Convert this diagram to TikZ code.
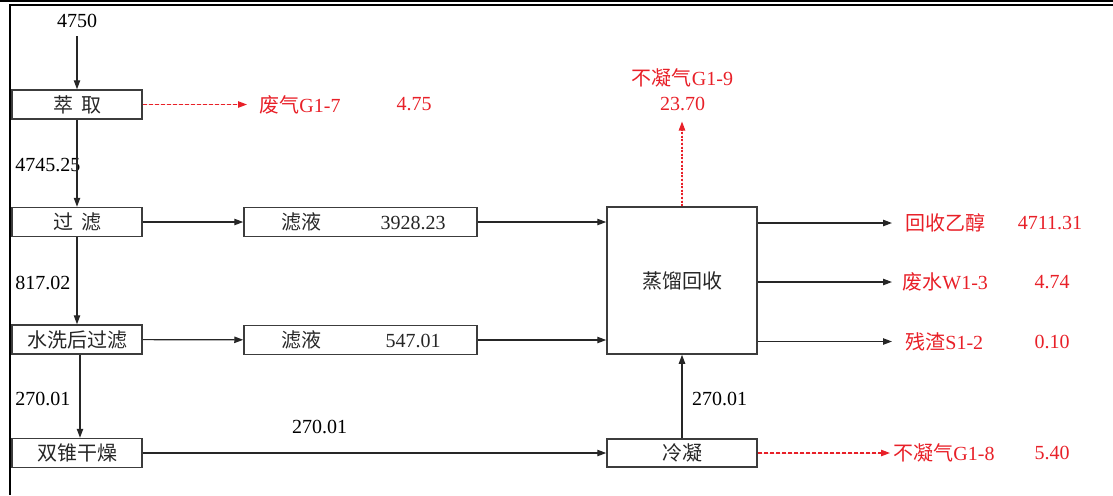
\documentclass[tikz,border=0pt]{standalone}
\usepackage{fontspec}
\setmainfont{Liberation Serif}
\newfontfamily\cjk{Noto Sans CJK SC}
\usetikzlibrary{arrows.meta}
\usetikzlibrary{positioning}
\definecolor{flowred}{RGB}{232,32,40}
\definecolor{boxgray}{RGB}{60,60,60}

\begin{document}
\begin{tikzpicture}[
        x=0.5pt, y=-0.5pt,
        font=\fontsize{10}{12}\selectfont,
        box/.style={rectangle, draw=boxgray, line width=0.75pt, inner sep=0pt, minimum width=65pt, minimum height=14.5pt, font=\fontsize{10}{12}\selectfont\cjk, text=black!85},
        lbl/.style={inner sep=0pt, text=black},
        redlbl/.style={inner sep=0pt, text=flowred},
        arrow/.style={-{Triangle[length=4.5pt, width=3.2pt]}, line width=0.6pt, draw=black!85},
        redarrow/.style={-{Triangle[length=4.5pt, width=3.2pt]}, line width=0.6pt, draw=flowred, fill=flowred}
    ]
    \useasboundingbox (0,0) rectangle (1113,495);

    % Frame
    \draw[line width=1.2pt] (0,1.2) -- (1113,1.2);
    \draw[line width=0.8pt] (9.7,5) -- (1113,5);
    \draw[line width=1.2pt] (9.7,4) -- (9.7,495);

    % Main process column
    \node[box] (cq) at (77,104.5) {萃\hspace{4pt}取};
    \node[box] (gl) at (77,222) {过\hspace{4pt}滤};
    \node[box] (sx) at (77,339.5) {水洗后过滤\hspace{12pt}};
    \node[box] (gz) at (77,453) {双锥干燥};

    % Filtrates
    \node[box, minimum width=116.5pt] (ly1) at (360.5,222) {\makebox[20pt][l]{滤液}\hspace{32.5pt}\makebox[27pt]{\rmfamily 3928.23}};
    \node[box, minimum width=116.5pt] (ly2) at (360.5,340) {\makebox[20pt][l]{滤液}\hspace{32.5pt}\makebox[27pt]{\rmfamily 547.01}};

    % Distillation and condensing
    \node[box, minimum width=75pt, minimum height=73.5pt] (zl) at (682,280.5) {蒸馏回收};
    \node[box, minimum width=75pt, minimum height=14pt] (ln) at (682,453) {冷凝};

    % Flow quantities
    \node[lbl, inner sep=4pt] (in) at (77,21) {4750};
    \node[lbl, anchor=west] (q1) at (15,165.5) {4745.25};
    \node[lbl, anchor=west] (q2) at (15,282.5) {817.02};
    \node[lbl, anchor=west] (q3) at (15,399) {270.01};
    \node[lbl] (q4) at (319.5,427) {270.01};
    \node[lbl] (q5) at (719.5,398.5) {270.01};

    % Emissions and products
    \node[redlbl, anchor=west] (g17) at (259,105) {{\cjk 废气}G1-7};
    \node[redlbl] (g17v) at (414,104.5) {4.75};
    \node[redlbl] (g19) at (682.5,77.5) {{\cjk 不凝气}G1-9};
    \node[redlbl, below=5pt of g19] (g19v) {23.70};
    \node[redlbl, anchor=west] (hs) at (905,223) {{\cjk 回收乙醇}};
    \node[redlbl] (hsv) at (1050,223) {4711.31};
    \node[redlbl, anchor=west] (fs) at (902,282) {{\cjk 废水}W1-3};
    \node[redlbl] (fsv) at (1052,282) {4.74};
    \node[redlbl, anchor=west] (cz) at (905,341.5) {{\cjk 残渣}S1-2};
    \node[redlbl] (czv) at (1052,341.5) {0.10};
    \node[redlbl, anchor=west] (g18) at (893,453) {{\cjk 不凝气}G1-8};
    \node[redlbl] (g18v) at (1052,453) {5.40};

    % Arrows
    \draw[arrow] (in) -- (cq);
    \draw[arrow] (cq) -- (gl);
    \draw[arrow] (gl) -- (sx);
    \draw[arrow] ([xshift=1.5pt]sx.south) -- ([xshift=1.5pt]gz.north);
    \draw[arrow] (gl) -- (ly1);
    \draw[arrow] (sx) -- (ly2);
    \draw[arrow] (ly1.east) -- (ly1.east -| zl.west);
    \draw[arrow] (ly2.east) -- (ly2.east -| zl.west);
    \draw[arrow] (gz) -- (ln);
    \draw[arrow] (ln) -- (zl);
    \draw[arrow, shorten >=6.5pt] (zl.east |- hs.west) -- (hs.west);
    \draw[arrow, shorten >=5pt] (zl.east |- fs.west) -- (fs.west);
    \draw[arrow, shorten >=6.5pt] (zl.east |- cz.west) -- (cz.west);

    % Off-gas arrows
    \draw[redarrow, dash pattern=on 2pt off 1pt, shorten >=6pt] (cq.east) -- (cq.east -| g17.west);
    \draw[redarrow, dash pattern=on 1pt off 0.8pt, shorten >=5pt] (zl.north) -- (zl.north |- g19v.south);
    \draw[redarrow, dash pattern=on 2pt off 1pt, shorten >=1.5pt] (ln.east) -- (ln.east -| g18.west);

\end{tikzpicture}
\end{document}
